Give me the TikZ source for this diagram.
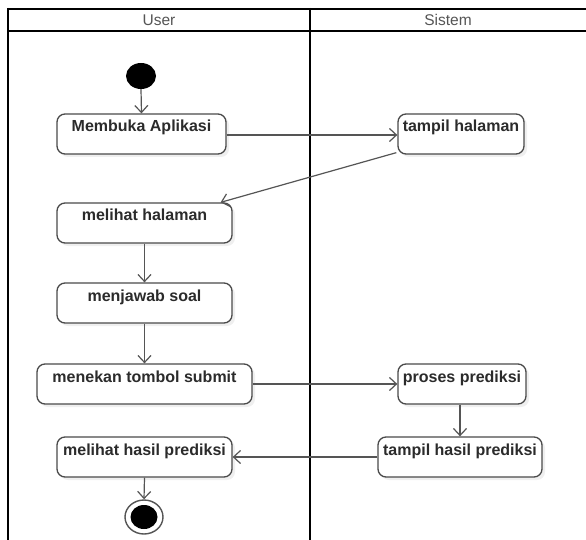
\documentclass[tikz,border=0pt]{standalone}
\usepackage{fontspec}
\setmainfont{Liberation Sans}
\usetikzlibrary{arrows.meta,shadows,shapes.geometric}
\definecolor{boxline}{HTML}{4A4A4A}
\definecolor{flowline}{HTML}{555555}
\definecolor{boxtext}{HTML}{2B2B2B}
\definecolor{headtext}{HTML}{555555}
\tikzset{
  lane/.style={line width=2pt,black},
  headlabel/.style={font=\fontsize{15.5}{17}\selectfont,text=headtext},
  act/.style={draw=boxline,line width=1.3pt,fill=white,rounded corners=8pt,
    font=\fontsize{16}{18}\selectfont\bfseries,text=boxtext,
    text height=14pt,text depth=18pt,inner ysep=4pt,inner xsep=2pt,
    drop shadow={opacity=0.12,shadow xshift=3pt,shadow yshift=-3pt}},
  flow/.style={draw=flowline,line width=1.2pt,
    -{Straight Barb[length=7pt,width=13pt,line width=1.2pt]}},
  initnode/.style={ellipse,fill=black,minimum width=30pt,minimum height=26pt,inner sep=0pt},
  finalring/.style={ellipse,draw=flowline,line width=1.4pt,fill=white,
    minimum width=38pt,minimum height=34pt,inner sep=0pt},
  finaldot/.style={ellipse,fill=black,minimum width=27pt,minimum height=24pt,inner sep=0pt},
}
\begin{document}
\begin{tikzpicture}[x=1pt,y=-1pt]
  \useasboundingbox (0,0) rectangle (586,540);
  \fill[white] (0,0) rectangle (586,540);

  % swimlane frame
  \draw[lane] (8,9) -- (586,9);
  \draw[lane] (8,31) -- (586,31);
  \draw[lane] (8,8) -- (8,540);
  \draw[lane] (310,8) -- (310,540);
  \node[headlabel] (hu) at (159,20) {User};
  \node[headlabel] (hs) at (448,20) {Sistem};

  % start and end
  \node[initnode] (start) at (141,76) {};
  \node[finalring] (fin) at (144,517) {};
  \node[finaldot] (findot) at (fin.center) {};

  % activities
  \node[act,minimum width=169pt] (ma) at (141.5,134) {Membuka Aplikasi};
  \node[act,minimum width=126pt] (th) at (461,134) {tampil halaman};
  \node[act,minimum width=175pt] (mh) at (144.5,223) {melihat halaman};
  \node[act,minimum width=175pt] (mj) at (144.5,303) {menjawab soal};
  \node[act,minimum width=215pt] (mt) at (144.5,384) {menekan tombol submit};
  \node[act,minimum width=128pt] (pp) at (462,384) {proses prediksi};
  \node[act,minimum width=164pt] (tp) at (460,457) {tampil hasil prediksi};
  \node[act,minimum width=175pt] (mp) at (144.5,457) {melihat hasil prediksi};

  % control flow
  \draw[flow] (start.south) -- (ma.north);
  \draw[flow] ([yshift=-1pt]ma.east) -- ([yshift=-1pt]th.west);
  \draw[flow] ([xshift=-1pt,yshift=2pt]th.south west) -- ([xshift=-12pt]mh.north east);
  \draw[flow] (mh.south) -- (mj.north);
  \draw[flow] (mj.south) -- (mt.north);
  \draw[flow] (mt.east) -- (pp.west);
  \draw[flow] ([xshift=-2pt]pp.south) -- (tp.north);
  \draw[flow] (tp.west) -- (mp.east);
  \draw[flow] (mp.south) -- (fin.north);
\end{tikzpicture}
\end{document}
